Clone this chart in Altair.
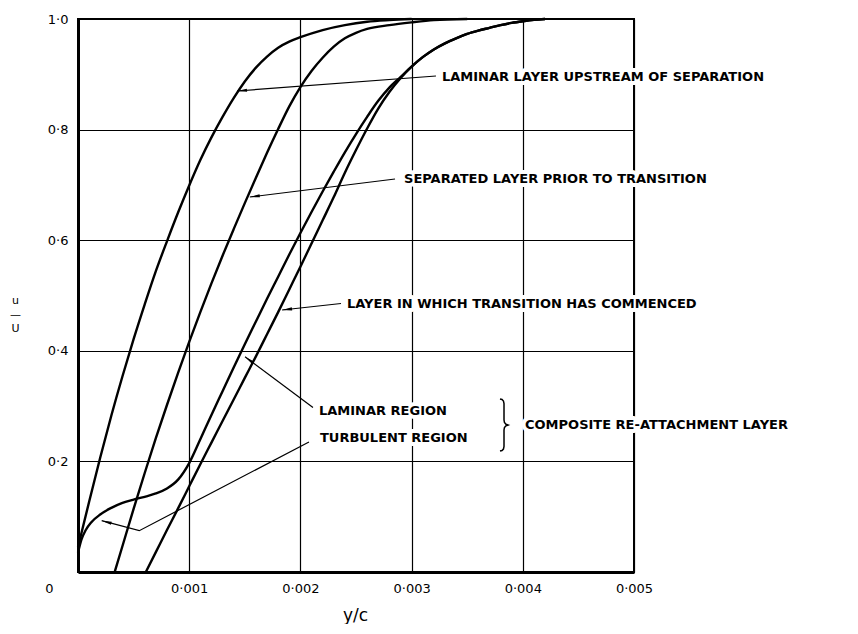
import math
import altair as alt
import pandas as pd

# ---------------- data ----------------
lam_v = [0, 0.0001, 0.0002, 0.0003, 0.0004, 0.0005, 0.0006, 0.0007, 0.0008, 0.0009,
         0.001, 0.0011, 0.0012, 0.0013, 0.0014, 0.0015, 0.0016, 0.0017, 0.0018, 0.0019,
         0.002, 0.0022, 0.0024, 0.0026, 0.0028, 0.003]
lam_u = [0.045, 0.127, 0.207, 0.283, 0.354, 0.421, 0.484, 0.544, 0.598, 0.650,
         0.699, 0.745, 0.786, 0.823, 0.857, 0.887, 0.912, 0.932, 0.948, 0.959,
         0.967, 0.980, 0.989, 0.995, 0.998, 1.0]

sep_v = [0.00033, 0.0004, 0.0005, 0.0006, 0.0007, 0.0008, 0.0009, 0.001, 0.0011,
         0.0012, 0.0013, 0.0014, 0.0015, 0.0016, 0.0017, 0.0018, 0.0019, 0.002,
         0.0021, 0.0022, 0.0023, 0.0024, 0.0025, 0.0026, 0.0028, 0.003, 0.0032, 0.0035]
sep_u = [0.0, 0.047, 0.114, 0.179, 0.242, 0.302, 0.360, 0.416, 0.470,
         0.522, 0.572, 0.620, 0.667, 0.713, 0.758, 0.801, 0.842, 0.877,
         0.906, 0.930, 0.950, 0.965, 0.975, 0.982, 0.989, 0.994, 0.998, 1.0]

comp_v = [0, 0.00003, 0.00007, 0.00012, 0.0002, 0.0003, 0.0004, 0.0005, 0.0006,
          0.0007, 0.0008, 0.0009, 0.001, 0.0011, 0.0012, 0.0013, 0.0014, 0.0015,
          0.0016, 0.0017, 0.0018, 0.0019, 0.002, 0.0021, 0.0022, 0.0023, 0.0024,
          0.0025, 0.0026, 0.0027, 0.0028, 0.0029, 0.003, 0.0031, 0.0032, 0.0033,
          0.0034, 0.0035, 0.0036, 0.0037, 0.0038, 0.0039, 0.004, 0.0041, 0.0042]
comp_u = [0.035, 0.058, 0.076, 0.090, 0.104, 0.116, 0.125, 0.131, 0.136,
          0.142, 0.151, 0.167, 0.197, 0.240, 0.284, 0.327, 0.370, 0.412,
          0.453, 0.494, 0.534, 0.574, 0.613, 0.651, 0.688, 0.724, 0.759,
          0.792, 0.823, 0.852, 0.876, 0.895, 0.914, 0.931, 0.945, 0.956,
          0.965, 0.973, 0.979, 0.984, 0.989, 0.993, 0.996, 0.9985, 1.0]

trans_v = [0.00061, 0.0007, 0.0008, 0.0009, 0.001, 0.0011, 0.0012, 0.0013, 0.0014,
           0.0015, 0.0016, 0.0017, 0.0018, 0.0019, 0.002, 0.0021, 0.0022, 0.0023,
           0.0024, 0.0025, 0.0026, 0.0027, 0.0028, 0.0029, 0.003, 0.0031, 0.0032,
           0.0033, 0.0034, 0.0035, 0.0036, 0.0037, 0.0038, 0.0039, 0.004, 0.0041, 0.0042]
trans_u = [0.0, 0.036, 0.076, 0.115, 0.155, 0.195, 0.234, 0.273, 0.312,
           0.351, 0.390, 0.430, 0.470, 0.511, 0.552, 0.594, 0.636, 0.678,
           0.722, 0.763, 0.802, 0.838, 0.868, 0.893, 0.914, 0.931, 0.945,
           0.956, 0.965, 0.973, 0.979, 0.984, 0.989, 0.993, 0.996, 0.9985, 1.0]

x_ticks = [0, 0.001, 0.002, 0.003, 0.004, 0.005]
y_ticks = [0, 0.2, 0.4, 0.6, 0.8, 1.0]

label_text = [
    "LAMINAR LAYER UPSTREAM OF SEPARATION",
    "SEPARATED LAYER PRIOR TO TRANSITION",
    "LAYER IN WHICH TRANSITION HAS COMMENCED",
    "LAMINAR REGION",
    "TURBULENT REGION",
    "COMPOSITE RE-ATTACHMENT LAYER",
]
label_v = [0.003273, 0.002932, 0.002419, 0.002167, 0.002176, 0.004020]
label_u = [0.8951, 0.7107, 0.4855, 0.2917, 0.2423, 0.2658]

# leader lines (annotation geometry, data units), last point = arrow tip
leaders = [
    [(0.003219, 0.8969), (0.001430, 0.8698)],
    [(0.002851, 0.7107), (0.001545, 0.6781)],
    [(0.002365, 0.4855), (0.001835, 0.4738)],
    [(0.002113, 0.2975), (0.001502, 0.3893)],
    [(0.002077, 0.2351), (0.000551, 0.0747), (0.000213, 0.0928)],
]

brace_v = [0.003795, 0.003813, 0.003826, 0.003831, 0.003831, 0.003835, 0.003849,
           0.003867, 0.003849, 0.003835, 0.003831, 0.003831, 0.003826, 0.003813, 0.003795]
brace_u = [0.3128, 0.3119, 0.3092, 0.3047, 0.2749, 0.2703, 0.2671,
           0.2658, 0.2646, 0.2613, 0.2568, 0.2269, 0.2224, 0.2197, 0.2188]

# ---------------- tables ----------------
W, H = 556, 553
X_MAX = 0.005

rows = []
for name, vs, us in [("laminar", lam_v, lam_u), ("separated", sep_v, sep_u),
                     ("composite", comp_v, comp_u), ("transition", trans_v, trans_u)]:
    for i, (v, u) in enumerate(zip(vs, us)):
        rows.append({"curve": name, "seq": i, "v": v, "u": u})
curves = pd.DataFrame(rows)

labels = pd.DataFrame({"text": label_text, "v": label_v, "u": label_u})

lrows, arows = [], []
for k, pts in enumerate(leaders):
    for i, (v, u) in enumerate(pts):
        lrows.append({"id": k, "seq": i, "v": v, "u": u})
    (v0, u0), (v1, u1) = pts[-2], pts[-1]
    dx = (v1 - v0) * W / X_MAX
    dy = -(u1 - u0) * H
    ang = math.degrees(math.atan2(dx, -dy)) % 360
    arows.append({"v": v1, "u": u1, "angle": ang})
leader_df = pd.DataFrame(lrows)
arrow_df = pd.DataFrame(arows)
brace_df = pd.DataFrame({"seq": list(range(len(brace_v))), "v": brace_v, "u": brace_u})

# ---------------- encodings ----------------
x_axis = alt.Axis(
    values=x_ticks, title="y/c", grid=True, ticks=False,
    labelExpr="datum.value == 0 ? '0' : replace(format(datum.value, '.3f'), '.', '·')",
    labelOffset={"condition": {"test": "datum.value == 0", "value": -29}, "value": 0},
    labelFlush=False, labelPadding=10, labelFontSize=13,
    titleFontSize=17, titleX=277, titleY=43, titleAlign="center", titleBaseline="middle",
)
y_axis = alt.Axis(
    values=y_ticks, title=["u", "—", "U"], grid=True, ticks=False,
    labelExpr="datum.value == 0 ? '' : replace(format(datum.value, '.1f'), '.', '·')",
    labelPadding=10, labelFontSize=13,
    titleAngle=0, titleX=-63, titleY=281, titleAlign="center", titleBaseline="middle",
    titleFontSize=11, titleLineHeight=14,
)
X = alt.X("v:Q", scale=alt.Scale(domain=[0, X_MAX], nice=False), axis=x_axis)
Y = alt.Y("u:Q", scale=alt.Scale(domain=[0, 1], nice=False), axis=y_axis)

FONT = "DejaVu Sans"

halo = alt.Chart(labels).mark_text(
    align="left", baseline="middle", font=FONT, fontSize=13, fontWeight="bold",
    stroke="white", strokeWidth=8, strokeJoin="round", fill="white"
).encode(x=X, y=Y, text="text:N")

leader_lines = alt.Chart(leader_df).mark_line(color="black", strokeWidth=1.2).encode(
    x=X, y=Y, detail="id:N", order="seq:Q")

curve_lines = alt.Chart(curves).mark_line(
    color="black", strokeWidth=2.4, interpolate="monotone"
).encode(x=X, y=Y, detail="curve:N", order="seq:Q")

arrows = alt.Chart(arrow_df).mark_point(
    shape="M0,0L-0.4,2.5L0.4,2.5Z", filled=True, size=64, color="black", opacity=1
).encode(x=X, y=Y, angle=alt.Angle("angle:Q", scale=None))

brace = alt.Chart(brace_df).mark_line(color="black", strokeWidth=1.5).encode(
    x=X, y=Y, order="seq:Q")

texts = alt.Chart(labels).mark_text(
    align="left", baseline="middle", font=FONT, fontSize=13, fontWeight="bold", color="black"
).encode(x=X, y=Y, text="text:N")

chart = alt.layer(halo, leader_lines, curve_lines, arrows, brace, texts).properties(
    width=W, height=H,
    autosize=alt.AutoSizeParams(type="none"),
    padding={"left": 70, "top": 11, "right": 216, "bottom": 52},
    background="white",
).configure_view(
    stroke="black", strokeWidth=2
).configure_axis(
    gridColor="black", gridWidth=1.2, gridOpacity=1,
    domainColor="black", domainWidth=3,
    labelColor="black", titleColor="black",
    labelFont=FONT, titleFont=FONT, titleFontWeight="normal",
)

chart.save("out.html", embed_options={"renderer": "svg", "actions": False})
